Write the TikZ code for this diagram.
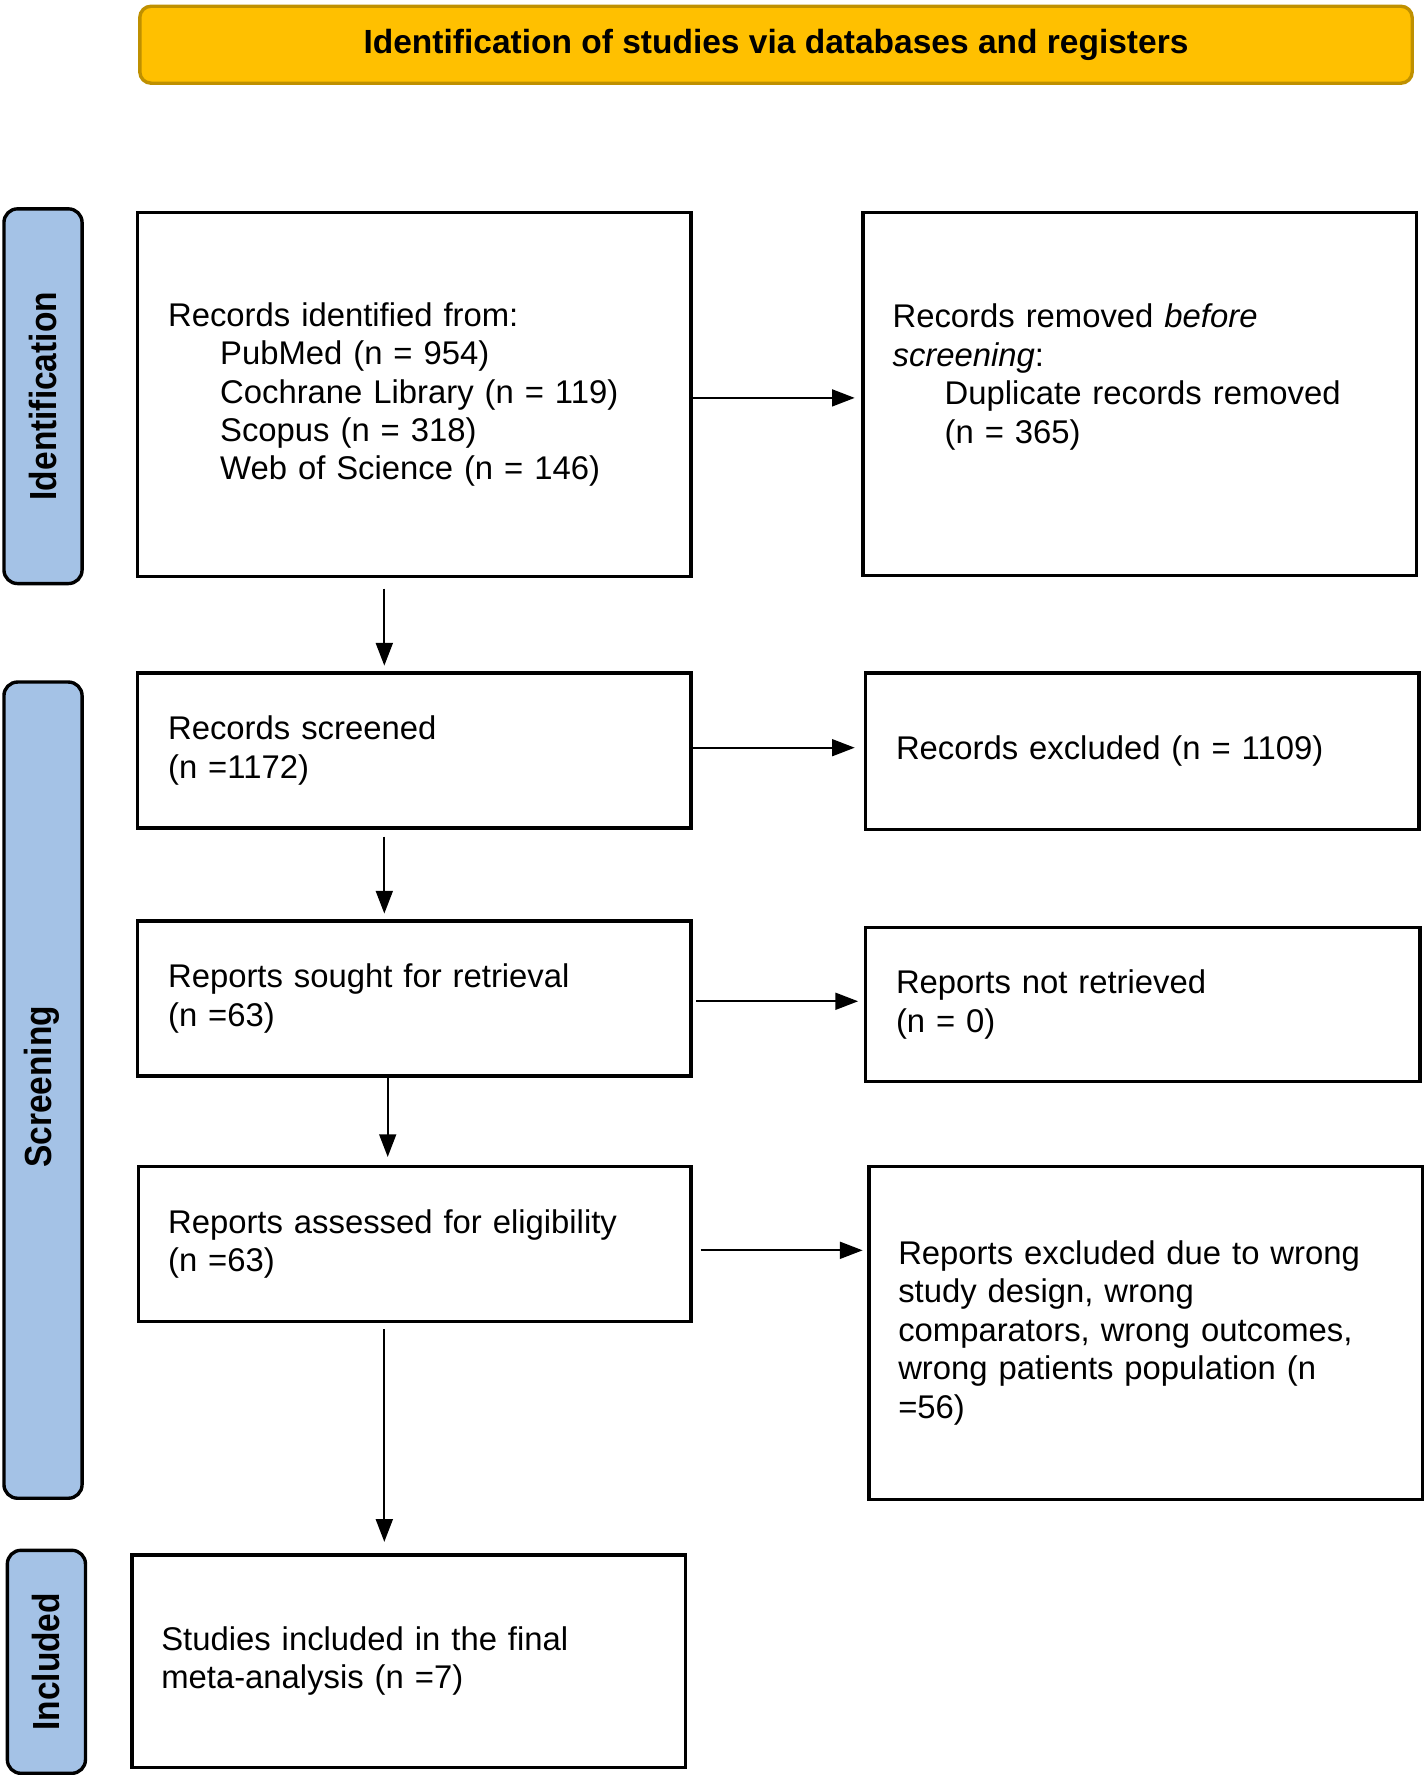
\documentclass[tikz,border=0pt]{standalone}
\usepackage{fontspec}
\setmainfont{Liberation Sans}
\usepackage{graphicx}
\usetikzlibrary{arrows.meta,calc}
\definecolor{bannerfill}{HTML}{FFC000}
\definecolor{bannerline}{HTML}{BF9000}
\definecolor{sidefill}{HTML}{A4C2E6}
\tikzset{
  txt/.style={font=\fontsize{29}{34}\selectfont},
  box/.style={txt, draw=black, line width=3pt, anchor=north west, align=left,
    inner xsep=27pt, inner ysep=0pt, text width=#1},
  box/.default=435pt,
  sidebar/.style={draw=black, fill=sidefill, line width=3pt, rounded corners=12pt,
    anchor=north west, minimum width=69pt, inner sep=0pt},
  sidelabel/.style={txt, rotate=90, inner sep=0pt},
  arr/.style={line width=1.5pt, -{Triangle[length=20pt,width=15pt]}},
}
\newcommand{\ind}{\hspace*{46pt}}
\newcommand{\sidetext}[1]{\scalebox{1.02}[1.15]{\bfseries #1}}
\begin{document}
\begin{tikzpicture}[x=1pt,y=-1pt]
\useasboundingbox (0,0) rectangle (1259,1568);
% banner
\node[draw=bannerline, fill=bannerfill, line width=3pt, rounded corners=10pt,
  anchor=north west, minimum width=1124pt, minimum height=68pt, inner sep=0pt,
  font=\fontsize{29.6}{34}\selectfont]
  (banner) at (122,4) {\bfseries Identification of studies via databases and registers};
% side bars
\node[sidebar, minimum height=331pt] (idbar) at (2,183) {};
\node[sidelabel] (idlab) at (idbar.center) {\sidetext{Identification}};
\node[sidebar, minimum height=721pt] (scrbar) at (2,601) {};
\node[sidelabel] (scrlab) at (37,960) {\sidetext{Screening}};
\node[sidebar, minimum height=197pt] (incbar) at (5,1368) {};
\node[sidelabel] (inclab) at (incbar.center) {\sidetext{Included}};
% boxes
\node[box, minimum width=489pt, minimum height=322pt] (b1) at (120,186)
  {Records identified from:\\ \ind PubMed (n = 954)\\ \ind Cochrane Library (n = 119)\\
   \ind Scopus (n = 318)\\ \ind Web of Science (n = 146)};
\node[box, minimum width=489pt, minimum height=321pt, inner xsep=26pt, text width=437pt] (b2) at (761,186)
  {Records removed \textit{before}\\ \textit{screening}:\\ \ind Duplicate records removed\\
   \ind (n = 365)\\[-8pt] \strut};
\node[box, minimum width=489pt, minimum height=137pt] (b3) at (120,593)
  {Records screened\\ (n =1172)};
\node[box, minimum width=489pt, minimum height=138pt] (b4) at (763,593)
  {Records excluded (n = 1109)};
\node[box, minimum width=489pt, minimum height=137pt] (b5) at (120,812)
  {Reports sought for retrieval\\ (n =63)};
\node[box, minimum width=490pt, minimum height=136pt, text width=436pt] (b6) at (763,818)
  {Reports not retrieved\\ (n = 0)};
\node[box, minimum width=488pt, minimum height=137pt, inner xsep=26pt, text width=436pt] (b7) at (121,1029)
  {Reports assessed for eligibility\\ (n =63)};
\node[box, minimum width=489pt, minimum height=294pt, inner xsep=26pt, text width=437pt] (b8) at (766,1029)
  {Reports excluded due to wrong\\ study design, wrong\\ comparators, wrong outcomes,\\
   wrong patients population (n\\ =56)};
\node[box, minimum width=489pt, minimum height=188pt, inner xsep=26pt, text width=437pt] (b9) at (115,1372)
  {Studies included in the final\\ meta-analysis (n =7)};
% horizontal arrows
\draw[arr] ($(b1.east)+(0,3)$) -- ($(b1.east -| b2.west)+(-6,3)$);
\draw[arr] ($(b3.east)+(0,-2.5)$) -- ($(b3.east -| b4.west)+(-8,-2.5)$);
\draw[arr] ($(b5.east)+(3,2.5)$) -- ($(b5.east -| b6.west)+(-5,2.5)$);
\draw[arr] ($(b7.east)+(7,5.5)$) -- ($(b7.east -| b8.west)+(-4,5.5)$);
% vertical arrows
\draw[arr] ($(b1.south)+(-26.5,9)$) -- ($(b1.south |- b3.north)+(-26.5,-5)$);
\draw[arr] ($(b3.south)+(-26.5,6)$) -- ($(b3.south |- b5.north)+(-26.5,-5)$);
\draw[arr] ($(b5.south)+(-23.5,0)$) -- ($(b5.south |- b7.north)+(-23.5,-7)$);
\draw[arr] ($(b7.south)+(-27,5)$) -- ($(b7.south |- b9.north)+(-27,-10)$);
\end{tikzpicture}
\end{document}
